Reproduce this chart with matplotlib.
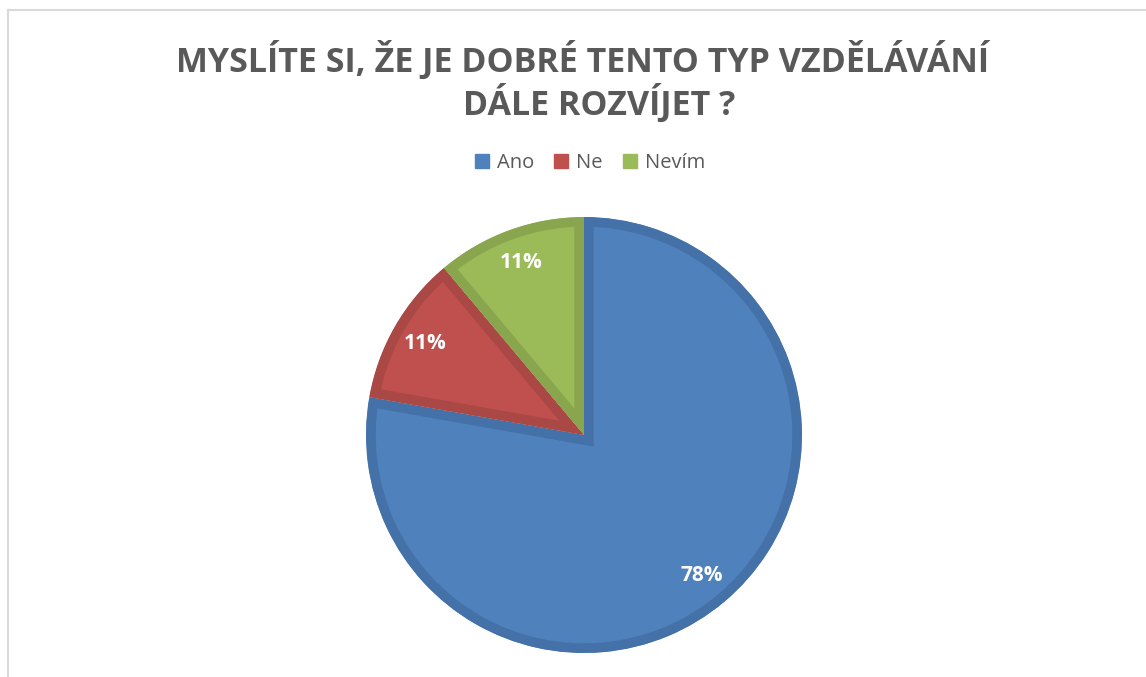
import matplotlib
matplotlib.use('Agg')
import matplotlib.pyplot as plt
from matplotlib.patches import Patch
from matplotlib.lines import Line2D

# answers to the survey question (count of respondents)
labels = ['Ano', 'Ne', 'Nevím']
counts = [7, 1, 1]
colors = ['#4F81BD', '#C0504D', '#9BBB59']
edge_colors = ['#4472A8', '#AA4845', '#89A64E']

title_line1 = 'MYSLÍTE SI, ŽE JE DOBRÉ TENTO TYP VZDĚLÁVÁNÍ'
title_line2 = 'DÁLE ROZVÍJET ?'

plt.rcParams['font.family'] = ['Open Sans', 'DejaVu Sans']

W, H = 1146, 677
fig = plt.figure(figsize=(W / 100, H / 100), dpi=100)
fig.patch.set_facecolor('white')

# chart area frame (only left and top edges visible in the crop)
fig.add_artist(Line2D([8 / W, 8 / W], [0, 1 - 10 / H], color='#D9D9D9', lw=1.5))
fig.add_artist(Line2D([8 / W, 1], [1 - 10 / H, 1 - 10 / H], color='#D9D9D9', lw=1.5))

# pie axes: centre (584, 435), radius 218 px
cx, cy, r = 584, 435, 218
ax = fig.add_axes([(cx - r) / W, (H - cy - r) / H, 2 * r / W, 2 * r / H])
wedges, texts, autotexts = ax.pie(counts,
                                  colors=colors,
                                  startangle=90,
                                  counterclock=False,
                                  autopct='%1.0f%%',
                                  pctdistance=0.84,
                                  wedgeprops=dict(linewidth=14),
                                  textprops=dict(color='white', fontsize=15, fontweight='bold'))
for w, ec in zip(wedges, edge_colors):
    w.set_edgecolor(ec)
    w.set_clip_on(True)
    w.set_clip_path(w.get_path(), w.get_transform())  # keep only the inner half of the border
ax.set_xlim(-1, 1)
ax.set_ylim(-1, 1)
ax.set_aspect('equal')
ax.axis('off')

# title
fig.text(583 / W, 1 - 72 / H, title_line1, ha='center', va='baseline',
         fontsize=24.5, fontweight='bold', color='#595959')
fig.text(599 / W, 1 - 115 / H, title_line2, ha='center', va='baseline',
         fontsize=24.5, fontweight='bold', color='#595959')

# legend
handles = [Patch(facecolor=c, edgecolor=c) for c in colors]
fig.legend(handles, labels, loc='center', bbox_to_anchor=(590 / W, 1 - 163 / H),
           ncol=3, frameon=False, fontsize=14.5, labelcolor='#595959',
           handlelength=0.7, handleheight=0.7, handletextpad=0.4, columnspacing=1.0)

fig.savefig('out.png', dpi=100, facecolor='white')
